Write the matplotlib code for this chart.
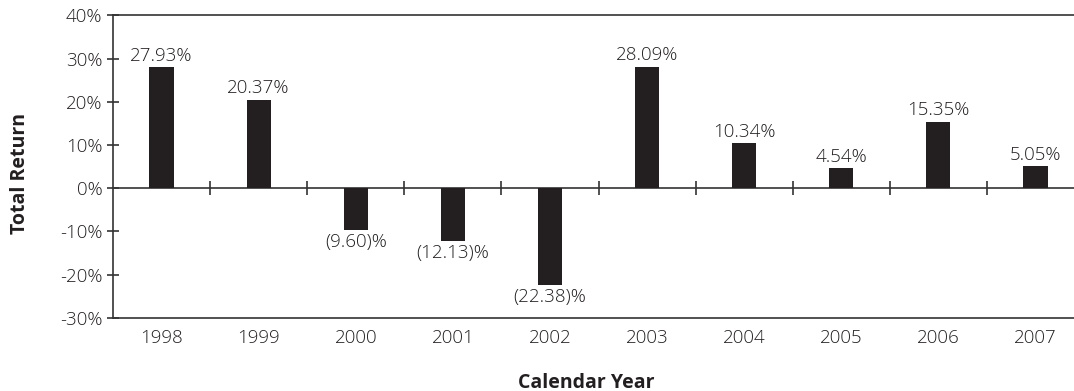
import matplotlib.pyplot as plt
import numpy as np

years = ['1998', '1999', '2000', '2001', '2002', '2003', '2004', '2005', '2006', '2007']
returns = [27.93, 20.37, -9.60, -12.13, -22.38, 28.09, 10.34, 4.54, 15.35, 5.05]
y_ticks = [-30, -20, -10, 0, 10, 20, 30, 40]

TEXT = '#231f20'
LINE = '#333333'
BAR = '#231f20'

plt.rcParams['font.family'] = ['Open Sans', 'DejaVu Sans']
plt.rcParams['font.size'] = 13.5
plt.rcParams['font.weight'] = 'light'


def pct_label(v):
    # negative returns go in brackets, e.g. (9.60)%
    if v < 0:
        return '({:.2f})%'.format(-v)
    return '{:.2f}%'.format(v)


fig = plt.figure(figsize=(10.74, 3.91), dpi=100)
# the plot runs slightly past the right edge of the figure
ax = fig.add_axes([113 / 1074, 73.3 / 391, 971 / 1074, 302.4 / 391])

x = np.arange(len(years))
ax.bar(x, returns, width=0.25, color=BAR, zorder=3)

for xi, v in zip(x, returns):
    if v >= 0:
        ax.annotate(pct_label(v), (xi, v), xytext=(0, 2), textcoords='offset points',
                    ha='center', va='bottom', color=TEXT)
    else:
        ax.annotate(pct_label(v), (xi, v), xytext=(0, -2.5), textcoords='offset points',
                    ha='center', va='top', color=TEXT)

ax.set_xlim(-0.5, len(years) - 0.5)
ax.set_ylim(-30, 40)

# y axis
ax.set_yticks(y_ticks)
ax.set_yticklabels(['{}%'.format(t) for t in y_ticks], color=TEXT)
ax.tick_params(axis='y', direction='inout', length=9, width=1.2, color=LINE, pad=3)

# zero line carries the category separators, bottom edge carries the year labels
ax.spines['top'].set_position(('data', 0))
ax.spines['right'].set_visible(False)
for s in ['top', 'left', 'bottom']:
    ax.spines[s].set_color(LINE)
    ax.spines[s].set_linewidth(1.2)
ax.axhline(40, color=LINE, linewidth=1.2, clip_on=False, zorder=4)

ax.set_xticks(x[:-1] + 0.5)
ax.set_xticks(x, minor=True)
ax.set_xticklabels(years, minor=True, color=TEXT)
ax.tick_params(axis='x', which='major', top=True, bottom=False, labeltop=False,
               labelbottom=False, direction='inout', length=10, width=1.2, color=LINE)
ax.tick_params(axis='x', which='minor', top=False, bottom=True, length=0, pad=8,
               labelbottom=True)

fig.text(586 / 1074, 1 - 383 / 391, 'Calendar Year', ha='center', va='center',
         fontsize=14, fontweight='bold', color=TEXT)
fig.text(20 / 1074, 1 - 174 / 391, 'Total Return', ha='center', va='center',
         rotation=90, fontsize=14, fontweight='bold', color=TEXT)

fig.savefig('out.png', dpi=100)
